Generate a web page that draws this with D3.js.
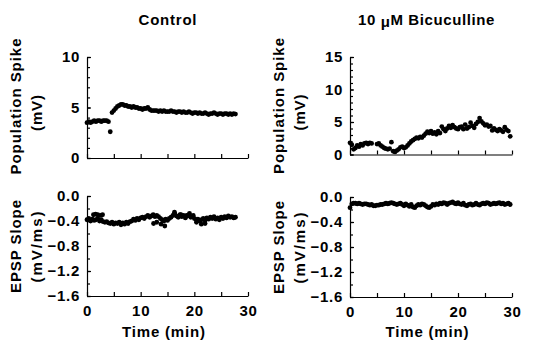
<!DOCTYPE html>
<html><head><meta charset="utf-8">
<script src="https://cdn.jsdelivr.net/npm/d3@7"></script>
<style>
body{margin:0;background:#fff;}
text{font-family:"Liberation Sans",Arial,sans-serif;font-weight:bold;font-size:15px;letter-spacing:0.7px;fill:#000;}
</style></head>
<body><svg id="c" width="533" height="354"></svg>
<script>
// sampling interval (min) of the recordings
const sampleInterval = 1/3;
const timeTicks = [0,5,10,15,20,25,30];
const timeLabels = [0,10,20,30];
const psControlTicks = [0,5,10];
const psBicTicks = [0,5,10,15];
const epspTicks = [0,-0.4,-0.8,-1.2,-1.6];

const controlPS = [3.5,3.6,3.5,3.6,3.7,3.6,3.7,3.7,3.6,3.7,3.7,3.7,3.6,
 2.6,
 4.5,4.7,4.9,5.1,5.2,5.3,5.3,
 5.2,5.2,5.1,5.1,5.0,5.1,5.0,5.0,4.9,
 4.9,4.8,4.9,4.9,5.0,4.8,4.7,4.7,4.7,4.7,
 4.6,4.7,4.6,4.7,4.6,4.6,4.6,4.7,4.6,4.6,
 4.5,4.6,4.6,4.5,4.6,4.5,4.5,4.6,4.5,4.4,
 4.5,4.5,4.4,4.5,4.4,4.4,4.5,4.4,4.3,4.4,
 4.4,4.5,4.4,4.3,4.4,4.4,4.3,4.4,4.4,4.3,
 4.4,4.3,4.4,4.35];

const bicPS = [1.8,1.5,0.8,1.0,1.4,1.2,1.6,1.4,1.7,1.8,1.6,1.8,1.7,null,null,
 1.6,1.7,1.4,1.2,1.0,0.9,0.8,0.9,1.9,0.5,0.4,0.6,0.8,1.1,1.2,
 1.0,1.1,1.4,1.7,2.0,2.2,2.4,2.6,2.5,2.7,
 2.6,2.9,3.2,3.5,3.3,3.6,3.2,3.4,3.1,3.6,
 3.3,4.3,3.9,3.6,4.0,4.4,4.1,4.5,4.2,4.0,
 3.9,4.2,4.3,3.9,4.6,4.0,4.2,4.9,4.4,4.1,
 4.7,5.0,5.6,5.1,4.8,4.5,4.6,4.3,4.4,3.7,
 4.0,3.8,3.6,3.9,3.7,3.5,4.2,3.8,3.6,2.8];

const controlEPSP = [-0.38,-0.36,-0.40,-0.37,-0.39,-0.38,-0.36,-0.40,-0.38,-0.41,
 -0.42,-0.41,-0.43,-0.44,-0.42,-0.45,-0.43,-0.44,-0.42,-0.46,-0.43,-0.45,-0.42,-0.44,-0.41,
 -0.40,-0.37,-0.39,-0.36,-0.38,-0.35,
 -0.34,-0.36,-0.33,-0.31,-0.34,-0.32,-0.30,-0.33,-0.31,
 -0.33,-0.36,-0.38,-0.40,-0.37,-0.39,-0.36,-0.34,
 -0.31,-0.28,-0.32,-0.34,-0.30,-0.33,-0.31,-0.35,-0.32,-0.30,-0.34,-0.33,-0.36,
 -0.38,-0.37,-0.40,-0.38,-0.36,-0.39,-0.35,-0.37,
 -0.34,-0.36,-0.33,-0.37,-0.35,-0.38,-0.34,-0.36,-0.33,-0.35,-0.32,-0.34,-0.33,-0.35,-0.34];
const controlEPSPExtraTimes = [1.2,1.6,2.0,2.5,2.9,12.4,13.0,13.8,14.5,16.3,17.5,18.6,19.1,19.8,20.4,21.3,22.0];
const controlEPSPExtraValues = [-0.30,-0.29,-0.30,-0.31,-0.30,-0.44,-0.42,-0.45,-0.48,-0.26,-0.30,-0.31,-0.28,-0.31,-0.42,-0.45,-0.44];

const bicEPSP = [-0.17,-0.11,-0.10,-0.10,-0.11,-0.10,-0.11,-0.12,-0.11,-0.11,
 -0.12,-0.13,-0.12,-0.14,-0.14,-0.13,-0.13,-0.12,-0.12,-0.11,
 -0.10,-0.11,-0.10,-0.09,-0.10,-0.11,-0.12,-0.11,-0.10,-0.12,
 -0.14,-0.11,-0.13,-0.15,-0.12,-0.16,-0.17,-0.14,-0.12,-0.13,
 -0.11,-0.12,-0.14,-0.16,-0.17,-0.15,-0.12,-0.13,-0.11,-0.12,
 -0.10,-0.11,-0.09,-0.10,-0.12,-0.10,-0.09,-0.08,-0.10,-0.11,
 -0.09,-0.11,-0.12,-0.10,-0.13,-0.14,-0.12,-0.11,-0.13,-0.12,
 -0.10,-0.12,-0.13,-0.11,-0.10,-0.11,-0.09,-0.10,-0.12,-0.11,
 -0.10,-0.11,-0.10,-0.09,-0.11,-0.10,-0.12,-0.11,-0.10,-0.12];

function toPoints(vals){ return vals.map((v,i)=>({t:i*sampleInterval,v:v})).filter(d=>d.v!==null); }

const svg = d3.select("#c");

function label(x, y, str, len, rotate){
  const t = svg.append("text")
    .attr("transform", rotate ? `translate(${x},${y}) rotate(-90)` : `translate(${x},${y})`)
    .attr("text-anchor","middle")
    .style("letter-spacing","0px")
    .attr("textLength", len).attr("lengthAdjust","spacing");
  return t.text(str);
}

function panel(o){
  const x = d3.scaleLinear().domain([0,30]).range(o.xr);
  const y = d3.scaleLinear().domain(o.yd).range(o.yr);
  const g = svg.append("g");
  g.append("g").attr("transform",`translate(${o.xr[0]},0)`)
    .call(d3.axisLeft(y).tickValues(o.minor).tickSizeInner(-3).tickSizeOuter(0).tickFormat(""))
    .call(s=>s.select(".domain").remove());
  g.append("g").attr("transform",`translate(${o.xr[0]},0)`)
    .call(d3.axisLeft(y).tickValues(o.major).tickSizeInner(-4).tickSizeOuter(0).tickPadding(7).tickFormat(o.fmt));
  g.append("g").attr("transform",`translate(0,${o.yr[0]})`)
    .call(d3.axisBottom(x).tickValues(timeTicks).tickSizeInner(-4).tickSizeOuter(0).tickPadding(9)
      .tickFormat(d=> o.xlabels && timeLabels.includes(d) ? d : ""));
  g.selectAll(".domain").attr("stroke","#000").attr("stroke-width",1.2);
  g.selectAll(".tick line").attr("stroke","#000").attr("stroke-width",1.2);
  g.selectAll(".tick text").attr("font-size",null).attr("font-family",null).attr("fill","#000");
  g.selectAll("g").attr("font-size",null).attr("font-family",null);
  g.append("g").selectAll("circle").data(o.pts).join("circle")
    .attr("cx",d=>x(d.t)).attr("cy",d=>y(d.v)).attr("r",2.4).attr("fill","#000");
  label(o.xr[0]-66, o.lab1y, o.lab1, o.len1, true);
  label(o.xr[0]-45, o.lab2y, o.lab2, o.len2, true);
  return {x,y};
}

const fmtPS = d=>d;
const fmtE = d=>d3.format(".1f")(d);

panel({xr:[87,248],yr:[158,57],yd:[0,10],major:psControlTicks,minor:d3.range(0,11),fmt:fmtPS,
  pts:toPoints(controlPS),lab1:"Population Spike",lab2:"(mV)",lab1y:106.5,lab2y:113,len1:136,len2:36});
panel({xr:[350,512],yr:[154.5,57],yd:[0,15],major:psBicTicks,minor:d3.range(0,16),fmt:fmtPS,
  pts:toPoints(bicPS),lab1:"Population Spike",lab2:"(mV)",lab1y:106,lab2y:112.5,len1:136,len2:36});
const ePts = toPoints(controlEPSP).concat(controlEPSPExtraTimes.map((t,i)=>({t:t,v:controlEPSPExtraValues[i]})));
panel({xr:[87,248],yr:[296,196],yd:[-1.6,0],major:epspTicks,minor:d3.range(-16,1,2).map(v=>v/10),fmt:fmtE,
  pts:ePts,lab1:"EPSP Slope",lab2:"(mV/ms)",lab1y:246.5,lab2y:247,len1:93,len2:71,xlabels:true});
panel({xr:[350,512],yr:[297,197],yd:[-1.6,0],major:epspTicks,minor:d3.range(-16,1,2).map(v=>v/10),fmt:fmtE,
  pts:toPoints(bicEPSP),lab1:"EPSP Slope",lab2:"(mV/ms)",lab1y:247.5,lab2y:248,len1:93,len2:71,xlabels:true});

// titles
label(167.5, 25, "Control", 58, false);
const t2 = svg.append("text").attr("x",358).attr("y",25).attr("text-anchor","start").style("letter-spacing","0.6px");
t2.append("tspan").text("10 ");
t2.append("tspan").attr("dy",2).text("\u03BC");
t2.append("tspan").attr("dy",-2).text("M Bicuculline");
// x axis titles
label(163.5, 337, "Time (min)", 83, false);
label(427, 337, "Time (min)", 83, false);
</script></body></html>
